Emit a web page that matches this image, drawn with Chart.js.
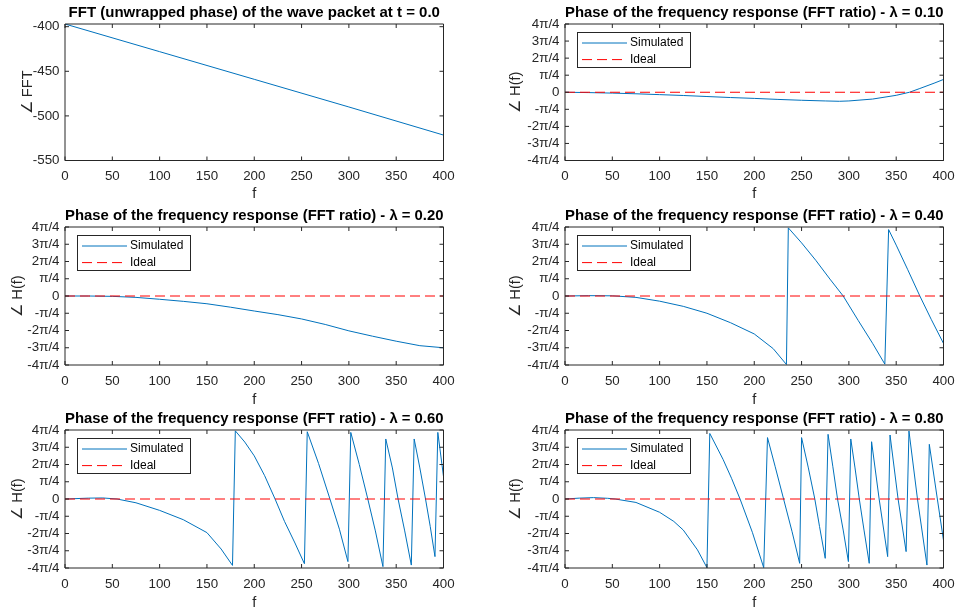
<!DOCTYPE html>
<html>
<head>
<meta charset="utf-8">
<script src="https://cdn.jsdelivr.net/npm/chart.js@4"></script>
<style>
  html, body { margin: 0; padding: 0; background: #fff; overflow: hidden; }
  #fig { position: relative; width: 955px; height: 612px; overflow: hidden; }
  #fig canvas { position: absolute; }
</style>
</head>
<body>
<div id="fig">
  <canvas id="p1"></canvas>
  <canvas id="p2"></canvas>
  <canvas id="p3"></canvas>
  <canvas id="p4"></canvas>
  <canvas id="p5"></canvas>
  <canvas id="p6"></canvas>
</div>
<script>
// ---- data ----
const fTicks = [0, 50, 100, 150, 200, 250, 300, 350, 400];
const fftTicks = [-550, -500, -450, -400];
// phase ticks in units of pi/4
const phaseTicks = [-4, -3, -2, -1, 0, 1, 2, 3, 4];
const phaseTickLabels = ['-4π/4', '-3π/4', '-2π/4', '-π/4', '0', 'π/4', '2π/4', '3π/4', '4π/4'];

// unwrapped FFT phase of the wave packet
const fftF     = [0, 100, 200, 300, 400];
const fftPhase = [-397, -428, -459, -490, -521.5];

// ideal response (zero phase)
const idealF     = [0, 400];
const idealPhase = [0, 0];

// simulated phase, units of pi/4
const f10     = [0, 25, 50, 75, 100, 125, 150, 175, 200, 225, 250, 275, 290, 300, 325, 350, 364, 375, 390, 400];
const phase10 = [0, -0.02, -0.05, -0.09, -0.14, -0.19, -0.25, -0.31, -0.36, -0.42, -0.47, -0.51, -0.53, -0.51, -0.4, -0.18, 0, 0.22, 0.53, 0.75];

const f20     = [0, 25, 50, 75, 100, 125, 150, 175, 200, 225, 250, 275, 300, 325, 350, 375, 400];
const phase20 = [0, 0, -0.02, -0.08, -0.19, -0.31, -0.45, -0.65, -0.87, -1.08, -1.33, -1.65, -2.02, -2.33, -2.62, -2.88, -3.0];

const f40     = [0, 25, 50, 75, 100, 125, 150, 175, 200, 220, 234, 236, 250, 265, 280, 294, 310, 325, 338, 342, 350, 362, 375, 387, 400];
const phase40 = [0, 0.02, 0.01, -0.08, -0.3, -0.6, -1.0, -1.55, -2.2, -3.05, -3.97, 3.95, 3.08, 2.07, 0.98, 0, -1.43, -2.74, -3.95, 3.85, 2.95, 1.55, 0, -1.35, -2.75];

const f60     = [0, 25, 40, 55, 75, 100, 125, 150, 165, 177,
                 180, 190, 200, 211, 222, 232, 243, 253,
                 256, 268, 280, 290, 299,
                 302, 311, 320, 328, 336,
                 339, 346, 352, 359, 366,
                 369, 375, 381, 386, 391,
                 394, 400];
const phase60 = [0, 0.05, 0.06, 0, -0.22, -0.66, -1.2, -1.95, -2.9, -3.85,
                 3.95, 3.3, 2.5, 1.35, 0, -1.3, -2.55, -3.75,
                 3.9, 2.05, 0, -1.75, -3.63,
                 3.86, 2.0, 0, -1.85, -3.92,
                 3.48, 1.8, 0, -1.85, -3.83,
                 3.48, 1.8, 0, -1.6, -3.34,
                 3.86, 1.3];

const f80     = [0, 15, 30, 45, 53, 75, 100, 115, 125, 140, 150,
                 153, 167, 176, 185, 198, 210,
                 214, 222, 231, 240, 248,
                 250, 257, 264, 269, 275,
                 278, 283, 288, 294, 299.5,
                 302, 306.5, 311, 316, 321.5,
                 324, 332, 341,
                 343.5, 352, 360.5,
                 363.5, 372.5, 382.5,
                 385, 393.5, 400];
const phase80 = [0, 0.05, 0.08, 0.04, 0, -0.2, -0.77, -1.3, -1.8, -2.95, -3.98,
                 3.8, 2.3, 1.2, 0, -1.93, -3.98,
                 3.56, 1.9, 0, -1.9, -3.73,
                 3.56, 1.85, 0, -1.6, -3.44,
                 3.75, 1.9, 0, -1.8, -3.63,
                 3.48, 1.8, 0, -1.8, -3.73,
                 3.32, 0, -3.34,
                 3.71, 0, -3.05,
                 3.94, 0, -3.83,
                 3.17, 0, -2.4];

// ---- styling ----
const FONT = '"Liberation Sans", Arial, Helvetica, sans-serif';
const AXIS_COLOR = '#262626';
const SIM_COLOR = '#0072BD';
Chart.defaults.font.family = FONT;
Chart.defaults.color = AXIS_COLOR;

const pts = (xs, ys) => xs.map((x, i) => ({ x, y: ys[i] }));

// MATLAB-like axes box with inward ticks
const axesBox = {
  id: 'axesBox',
  afterDatasetsDraw(chart) {
    const { ctx, chartArea: a, scales: { x, y } } = chart;
    ctx.save();
    ctx.strokeStyle = AXIS_COLOR;
    ctx.lineWidth = 1;
    ctx.beginPath();
    ctx.rect(a.left, a.top, a.right - a.left, a.bottom - a.top);
    x.ticks.forEach(t => {
      const px = x.getPixelForValue(t.value);
      ctx.moveTo(px, a.bottom); ctx.lineTo(px, a.bottom - 4);
      ctx.moveTo(px, a.top);    ctx.lineTo(px, a.top + 4);
    });
    y.ticks.forEach(t => {
      const py = y.getPixelForValue(t.value);
      ctx.moveTo(a.left, py);  ctx.lineTo(a.left + 4, py);
      ctx.moveTo(a.right, py); ctx.lineTo(a.right - 4, py);
    });
    ctx.stroke();
    ctx.restore();
  }
};

// boxed legend in the upper-left corner of the axes
const boxLegend = {
  id: 'boxLegend',
  afterDraw(chart, args, opts) {
    if (!opts.show) return;
    const { ctx, chartArea: a } = chart;
    const x = a.left + 12, y = a.top + 8, w = 113, h = 35;
    ctx.save();
    ctx.fillStyle = '#fff';
    ctx.fillRect(x, y, w, h);
    ctx.strokeStyle = AXIS_COLOR;
    ctx.lineWidth = 1;
    ctx.strokeRect(x + 0.5, y + 0.5, w, h);
    chart.data.datasets.forEach((ds, i) => {
      const ly = y + 11 + i * 16.6;
      ctx.strokeStyle = ds.borderColor;
      ctx.lineWidth = ds.borderWidth;
      ctx.setLineDash(ds.borderDash || []);
      ctx.beginPath();
      ctx.moveTo(x + 5, ly);
      ctx.lineTo(x + 50, ly);
      ctx.stroke();
      ctx.setLineDash([]);
      ctx.fillStyle = '#000';
      ctx.font = '12px ' + FONT;
      ctx.textBaseline = 'middle';
      ctx.fillText(ds.label, x + 53, ly);
    });
    ctx.restore();
  }
};

function makePanel(p) {
  const el = document.getElementById(p.id);
  el.width = p.w; el.height = p.h;
  el.style.left = p.left + 'px';
  el.style.top = p.top + 'px';

  const datasets = [{
    label: 'Simulated',
    data: pts(p.xs, p.ys),
    borderColor: SIM_COLOR,
    borderWidth: 1,
    pointRadius: 0,
    order: 1,
  }];
  if (p.ideal) {
    datasets.push({
      label: 'Ideal',
      data: pts(idealF, idealPhase),
      borderColor: '#FF0000',
      borderWidth: 1,
      borderDash: [10, 5],
      pointRadius: 0,
      order: 0,
    });
  }

  return new Chart(el, {
    type: 'line',
    data: { datasets },
    plugins: [axesBox, boxLegend],
    options: {
      responsive: false,
      animation: false,
      devicePixelRatio: 1,
      layout: { padding: { left: 0, right: p.padRight, top: 0, bottom: 0 } },
      plugins: {
        legend: { display: false },
        tooltip: { enabled: false },
        boxLegend: { show: !!p.ideal },
        title: {
          display: true,
          text: p.title,
          fullSize: false,
          color: '#000',
          font: { size: 15, weight: 'bold' },
          padding: { top: 3.5, bottom: 2.5 },
        },
      },
      scales: {
        x: {
          type: 'linear',
          min: 0, max: 400,
          grid: { display: false, drawTicks: false },
          border: { display: false },
          afterBuildTicks: s => { s.ticks = fTicks.map(v => ({ value: v })); },
          afterFit: s => { s.height = p.xAxisH; },
          ticks: { font: { size: 13.33 }, padding: 8, maxRotation: 0, autoSkip: false },
          title: { display: true, text: 'f', font: { size: 14.67 }, padding: { top: 0, bottom: 0 } },
        },
        y: {
          type: 'linear',
          min: p.ymin, max: p.ymax,
          grid: { display: false, drawTicks: false },
          border: { display: false },
          afterBuildTicks: s => { s.ticks = p.yTicks.map(v => ({ value: v })); },
          afterFit: s => { s.width = p.yAxisW; },
          ticks: {
            font: { size: 13.33 }, padding: 5.5, autoSkip: false,
            callback: p.yLabel ? (v => p.yLabel[p.yTicks.indexOf(v)]) : (v => String(v)),
          },
          title: { display: true, text: p.yTitle, font: { size: 14.67 }, padding: { top: p.yTitlePad, bottom: 0 } },
        },
      },
    },
  });
}

const ttl = lam => 'Phase of the frequency response (FFT ratio) - λ = ' + lam;
const left  = { left: 0,   w: 480, padRight: 36.5, yAxisW: 65 };
// right column canvas runs past the window edge so the "400" label has room
const right = { left: 480, w: 500, padRight: 36.5, yAxisW: 85, yTitlePad: 27 };
const row1 = { top: 0,   h: 203, xAxisH: 42.5 };
const row2 = { top: 203, h: 206, xAxisH: 44 };
const row3 = { top: 406, h: 206, xAxisH: 44 };
const phaseAxis = { ymin: -4, ymax: 4, yTicks: phaseTicks, yLabel: phaseTickLabels, yTitle: '∠ H(f)', ideal: true };

makePanel({ id: 'p1', ...left, ...row1, xs: fftF, ys: fftPhase, ymin: -550, ymax: -397, yTicks: fftTicks,
  yTitle: '∠ FFT', yTitlePad: 19, title: 'FFT (unwrapped phase) of the wave packet at t = 0.0' });
makePanel({ id: 'p2', ...right, ...row1, ...phaseAxis, xs: f10, ys: phase10, title: ttl('0.10') });
makePanel({ id: 'p3', ...left, ...row2, ...phaseAxis, yTitlePad: 9.5, xs: f20, ys: phase20, title: ttl('0.20') });
makePanel({ id: 'p4', ...right, ...row2, ...phaseAxis, xs: f40, ys: phase40, title: ttl('0.40') });
makePanel({ id: 'p5', ...left, ...row3, ...phaseAxis, yTitlePad: 9.5, xs: f60, ys: phase60, title: ttl('0.60') });
makePanel({ id: 'p6', ...right, ...row3, ...phaseAxis, xs: f80, ys: phase80, title: ttl('0.80') });
</script>
</body>
</html>
